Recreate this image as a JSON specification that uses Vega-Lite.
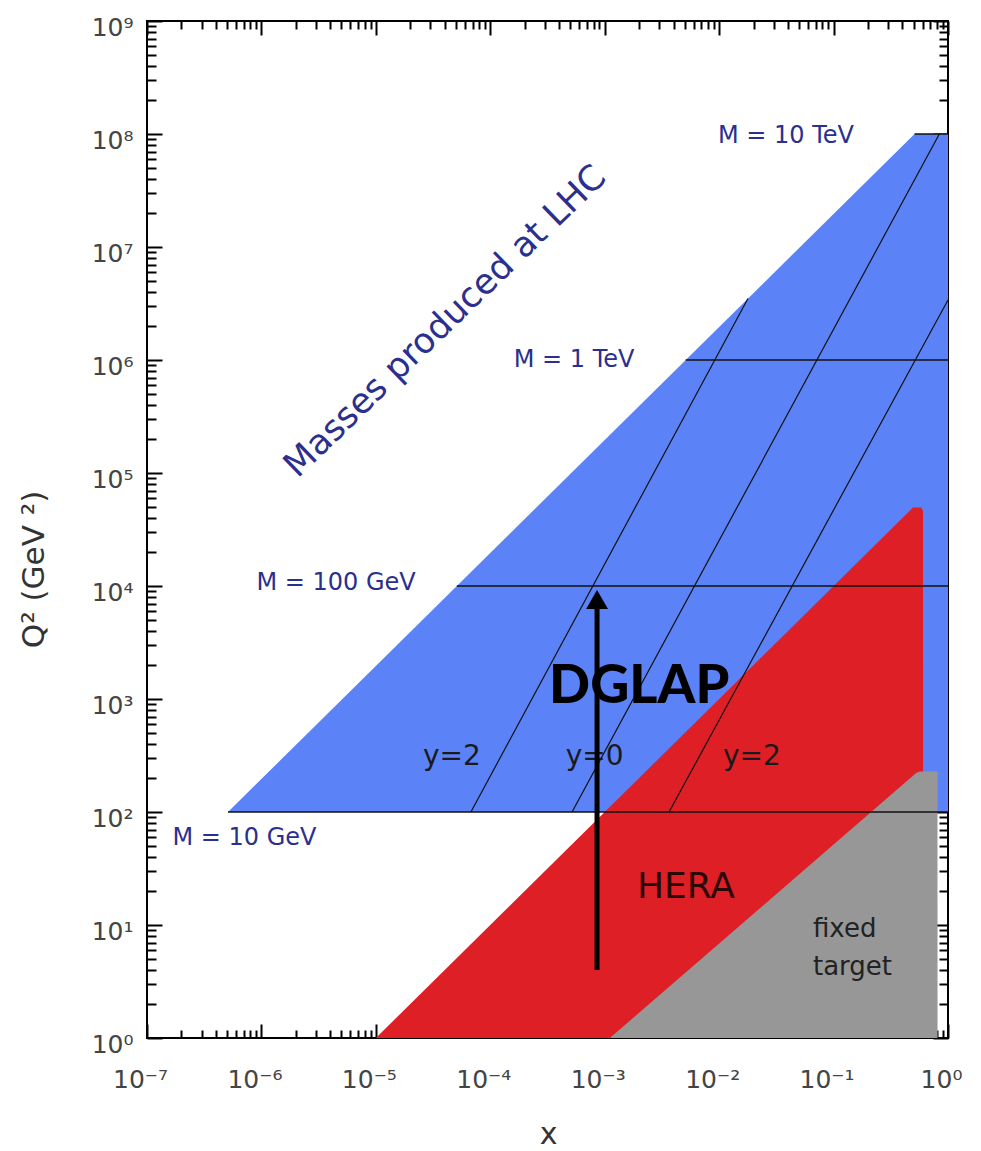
{
  "$schema": "https://vega.github.io/schema/vega-lite/v6.json",
  "width": 801,
  "height": 1017,
  "autosize": {"type": "none"},
  "padding": {"left": 147, "top": 21, "right": 33, "bottom": 113},
  "background": "white",
  "config": {
    "view": {"stroke": "black", "strokeWidth": 2},
    "font": "DejaVu Sans"
  },
  "datasets": {
    "lhc": [
      {"x": 5.1e-7, "top": 100, "bottom": 100},
      {"x": 0.51, "top": 100000000, "bottom": 100},
      {"x": 1, "top": 100000000, "bottom": 100}
    ],
    "hera": [
      {"x": 1e-5, "top": 1, "bottom": 1},
      {"x": 0.495, "top": 49500, "bottom": 1},
      {"x": 0.585, "top": 49500, "bottom": 1},
      {"x": 0.605, "top": 46000, "bottom": 1}
    ],
    "fixed": [
      {"x": 0.00111, "top": 1, "bottom": 1},
      {"x": 0.53, "top": 222, "bottom": 1},
      {"x": 0.57, "top": 228, "bottom": 1},
      {"x": 0.81, "top": 228, "bottom": 1}
    ],
    "masslines": [
      {"label": "M = 10 GeV", "x1": 5.1e-7, "x2": 1, "q": 100},
      {"label": "M = 100 GeV", "x1": 5.1e-5, "x2": 1, "q": 10000},
      {"label": "M = 1 TeV", "x1": 0.0051, "x2": 1, "q": 1000000},
      {"label": "M = 10 TeV", "x1": 0.51, "x2": 1, "q": 100000000}
    ],
    "masslabels": [
      {"text": "M = 10 TeV", "x": 0.0384, "q": 96000000},
      {"text": "M = 1 TeV", "x": 0.00054, "q": 990000},
      {"text": "M = 100 GeV", "x": 4.49e-6, "q": 10700},
      {"text": "M = 10 GeV", "x": 7.1e-7, "q": 59}
    ],
    "rapidity": [
      {"label": "y=2", "x1": 6.77e-5, "q1": 100, "x2": 0.01786, "q2": 3500000},
      {"label": "y=0", "x1": 0.000518, "q1": 100, "x2": 0.84, "q2": 100000000},
      {"label": "y=2", "x1": 0.00365, "q1": 100, "x2": 1, "q2": 3400000}
    ],
    "ylabels": [
      {"text": "y=2", "x": 4.62e-5, "q": 308},
      {"text": "y=0", "x": 0.000815, "q": 308},
      {"text": "y=2", "x": 0.01936, "q": 308}
    ],
    "heralabel": [{"text": "HERA", "x": 0.00513, "q": 21.7}],
    "fixedlabel": [
      {"text": "fixed", "x": 0.0661, "q": 7.85},
      {"text": "target", "x": 0.0661, "q": 3.61}
    ],
    "lhclabel": [{"text": "Masses produced at LHC", "x": 4.02e-5, "q": 2200000}],
    "arrow": [{"x": 0.000857, "q1": 4, "q2": 6800, "qhead": 7580}],
    "dglap": [{"text": "DGLAP", "x": 0.002, "q": 927}]
  },
  "layer": [
    {
      "data": {"name": "lhc"},
      "mark": {"type": "area", "color": "#5b83f7", "opacity": 1},
      "encoding": {
        "x": {
          "field": "x", "type": "quantitative",
          "scale": {"type": "log", "domain": [1e-7, 1], "nice": false},
          "axis": {
            "orient": "bottom",
            "values": [1e-7,2e-7,3e-7,4e-7,5e-7,6e-7,7e-7,8e-7,9e-7,1e-6,2e-6,3e-6,4e-6,5e-6,6e-6,7e-6,8e-6,9e-6,1e-5,2e-5,3e-5,4e-5,5e-5,6e-5,7e-5,8e-5,9e-5,0.0001,0.0002,0.0003,0.0004,0.0005,0.0006,0.0007,0.0008,0.0009,0.001,0.002,0.003,0.004,0.005,0.006,0.007,0.008,0.009,0.01,0.02,0.03,0.04,0.05,0.06,0.07,0.08,0.09,0.1,0.2,0.3,0.4,0.5,0.6,0.7,0.8,0.9,1],
            "labelExpr": "abs(log(datum.value)/LN10 - round(log(datum.value)/LN10)) < 0.001 ? '10' + replace(replace(replace(replace(replace(replace(replace(replace(replace(replace(replace('' + round(log(datum.value)/LN10), '-', '⁻'), '0', '⁰'), '1', '¹'), '2', '²'), '3', '³'), '4', '⁴'), '5', '⁵'), '6', '⁶'), '7', '⁷'), '8', '⁸'), '9', '⁹') : ''",
            "tickSize": {"condition": {"test": "abs(log(datum.value)/LN10 - round(log(datum.value)/LN10)) < 0.001", "value": -14}, "value": -8},
            "tickColor": "black", "tickWidth": 2,
            "domain": false, "grid": false,
            "labelFont": "DejaVu Sans", "labelFontSize": 25, "labelColor": "#444",
            "labelPadding": 63, "labelBaseline": "alphabetic", "labelOffset": -7,
            "labelFlush": false, "labelOverlap": false, "labelBound": false,
            "title": "x", "titleFont": "DejaVu Sans", "titleFontSize": 30, "titleFontWeight": "normal",
            "titleColor": "#333", "titleX": 401, "titleY": 105, "titleBaseline": "alphabetic", "titleAlign": "center"
          }
        },
        "y": {
          "field": "top", "type": "quantitative",
          "scale": {"type": "log", "domain": [1, 1000000000], "nice": false},
          "axis": {
            "orient": "left",
            "values": [1,2,3,4,5,6,7,8,9,10,20,30,40,50,60,70,80,90,100,200,300,400,500,600,700,800,900,1000,2000,3000,4000,5000,6000,7000,8000,9000,10000,20000,30000,40000,50000,60000,70000,80000,90000,100000,200000,300000,400000,500000,600000,700000,800000,900000,1000000,2000000,3000000,4000000,5000000,6000000,7000000,8000000,9000000,10000000,20000000,30000000,40000000,50000000,60000000,70000000,80000000,90000000,100000000,200000000,300000000,400000000,500000000,600000000,700000000,800000000,900000000,1000000000],
            "labelExpr": "abs(log(datum.value)/LN10 - round(log(datum.value)/LN10)) < 0.001 ? '10' + replace(replace(replace(replace(replace(replace(replace(replace(replace(replace(replace('' + round(log(datum.value)/LN10), '-', '⁻'), '0', '⁰'), '1', '¹'), '2', '²'), '3', '³'), '4', '⁴'), '5', '⁵'), '6', '⁶'), '7', '⁷'), '8', '⁸'), '9', '⁹') : ''",
            "tickSize": {"condition": {"test": "abs(log(datum.value)/LN10 - round(log(datum.value)/LN10)) < 0.001", "value": -15}, "value": -9},
            "tickColor": "black", "tickWidth": 2,
            "domain": false, "grid": false,
            "labelFont": "DejaVu Sans", "labelFontSize": 25, "labelColor": "#444",
            "labelPadding": 29, "labelAlign": "right", "labelBaseline": "middle", "labelOffset": 6,
            "labelFlush": false, "labelOverlap": false, "labelBound": false,
            "title": "Q²  (GeV ²)", "titleFont": "DejaVu Sans", "titleFontSize": 31, "titleFontWeight": "normal",
            "titleColor": "#333", "titleX": -113, "titleY": 548, "titleAngle": -90,
            "titleBaseline": "middle", "titleAlign": "center"
          }
        },
        "y2": {"field": "bottom"}
      }
    },
    {
      "data": {"name": "hera"},
      "mark": {"type": "area", "color": "#de1f26", "opacity": 1},
      "encoding": {
        "x": {
          "field": "x", "type": "quantitative",
          "scale": {"type": "log", "domain": [1e-7, 1], "nice": false},
          "axis": {
            "orient": "top",
            "values": [1e-7,2e-7,3e-7,4e-7,5e-7,6e-7,7e-7,8e-7,9e-7,1e-6,2e-6,3e-6,4e-6,5e-6,6e-6,7e-6,8e-6,9e-6,1e-5,2e-5,3e-5,4e-5,5e-5,6e-5,7e-5,8e-5,9e-5,0.0001,0.0002,0.0003,0.0004,0.0005,0.0006,0.0007,0.0008,0.0009,0.001,0.002,0.003,0.004,0.005,0.006,0.007,0.008,0.009,0.01,0.02,0.03,0.04,0.05,0.06,0.07,0.08,0.09,0.1,0.2,0.3,0.4,0.5,0.6,0.7,0.8,0.9,1],
            "labels": false,
            "tickSize": {"condition": {"test": "abs(log(datum.value)/LN10 - round(log(datum.value)/LN10)) < 0.001", "value": -14}, "value": -8},
            "tickColor": "black", "tickWidth": 2,
            "domain": false, "grid": false, "title": null
          }
        },
        "y": {
          "field": "top", "type": "quantitative",
          "scale": {"type": "log", "domain": [1, 1000000000], "nice": false},
          "axis": {
            "orient": "right",
            "values": [1,2,3,4,5,6,7,8,9,10,20,30,40,50,60,70,80,90,100,200,300,400,500,600,700,800,900,1000,2000,3000,4000,5000,6000,7000,8000,9000,10000,20000,30000,40000,50000,60000,70000,80000,90000,100000,200000,300000,400000,500000,600000,700000,800000,900000,1000000,2000000,3000000,4000000,5000000,6000000,7000000,8000000,9000000,10000000,20000000,30000000,40000000,50000000,60000000,70000000,80000000,90000000,100000000,200000000,300000000,400000000,500000000,600000000,700000000,800000000,900000000,1000000000],
            "labels": false,
            "tickSize": {"condition": {"test": "abs(log(datum.value)/LN10 - round(log(datum.value)/LN10)) < 0.001", "value": -15}, "value": -9},
            "tickColor": "black", "tickWidth": 2,
            "domain": false, "grid": false, "title": null
          }
        },
        "y2": {"field": "bottom"}
      }
    },
    {
      "data": {"name": "fixed"},
      "mark": {"type": "area", "color": "#979797", "opacity": 1},
      "encoding": {
        "x": {"field": "x", "type": "quantitative", "scale": {"type": "log", "domain": [1e-7, 1], "nice": false}, "axis": null},
        "y": {"field": "top", "type": "quantitative", "scale": {"type": "log", "domain": [1, 1000000000], "nice": false}, "axis": null},
        "y2": {"field": "bottom"}
      }
    },
    {
      "data": {"name": "masslines"},
      "mark": {"type": "rule", "color": "#111", "strokeWidth": 1.6},
      "encoding": {
        "x": {"field": "x1", "type": "quantitative", "scale": {"type": "log", "domain": [1e-7, 1], "nice": false}, "axis": null},
        "x2": {"field": "x2"},
        "y": {"field": "q", "type": "quantitative", "scale": {"type": "log", "domain": [1, 1000000000], "nice": false}, "axis": null}
      }
    },
    {
      "data": {"name": "rapidity"},
      "mark": {"type": "rule", "color": "#111", "strokeWidth": 1.2},
      "encoding": {
        "x": {"field": "x1", "type": "quantitative", "scale": {"type": "log", "domain": [1e-7, 1], "nice": false}, "axis": null},
        "x2": {"field": "x2"},
        "y": {"field": "q1", "type": "quantitative", "scale": {"type": "log", "domain": [1, 1000000000], "nice": false}, "axis": null},
        "y2": {"field": "q2"}
      }
    },
    {
      "data": {"name": "masslabels"},
      "mark": {"type": "text", "font": "DejaVu Sans", "fontSize": 24, "color": "#2b2f8e", "align": "center", "baseline": "middle"},
      "encoding": {
        "x": {"field": "x", "type": "quantitative", "scale": {"type": "log", "domain": [1e-7, 1], "nice": false}, "axis": null},
        "y": {"field": "q", "type": "quantitative", "scale": {"type": "log", "domain": [1, 1000000000], "nice": false}, "axis": null},
        "text": {"field": "text"}
      }
    },
    {
      "data": {"name": "lhclabel"},
      "mark": {"type": "text", "font": "DejaVu Sans", "fontSize": 35, "color": "#2b2f8e", "align": "center", "baseline": "middle", "angle": -44},
      "encoding": {
        "x": {"field": "x", "type": "quantitative", "scale": {"type": "log", "domain": [1e-7, 1], "nice": false}, "axis": null},
        "y": {"field": "q", "type": "quantitative", "scale": {"type": "log", "domain": [1, 1000000000], "nice": false}, "axis": null},
        "text": {"field": "text"}
      }
    },
    {
      "data": {"name": "ylabels"},
      "mark": {"type": "text", "font": "DejaVu Sans", "fontSize": 28, "color": "#1a1a1a", "align": "center", "baseline": "middle"},
      "encoding": {
        "x": {"field": "x", "type": "quantitative", "scale": {"type": "log", "domain": [1e-7, 1], "nice": false}, "axis": null},
        "y": {"field": "q", "type": "quantitative", "scale": {"type": "log", "domain": [1, 1000000000], "nice": false}, "axis": null},
        "text": {"field": "text"}
      }
    },
    {
      "data": {"name": "heralabel"},
      "mark": {"type": "text", "font": "DejaVu Sans", "fontSize": 36, "color": "#2a0808", "align": "center", "baseline": "middle"},
      "encoding": {
        "x": {"field": "x", "type": "quantitative", "scale": {"type": "log", "domain": [1e-7, 1], "nice": false}, "axis": null},
        "y": {"field": "q", "type": "quantitative", "scale": {"type": "log", "domain": [1, 1000000000], "nice": false}, "axis": null},
        "text": {"field": "text"}
      }
    },
    {
      "data": {"name": "fixedlabel"},
      "mark": {"type": "text", "font": "DejaVu Sans", "fontSize": 26, "color": "#222", "align": "left", "baseline": "alphabetic"},
      "encoding": {
        "x": {"field": "x", "type": "quantitative", "scale": {"type": "log", "domain": [1e-7, 1], "nice": false}, "axis": null},
        "y": {"field": "q", "type": "quantitative", "scale": {"type": "log", "domain": [1, 1000000000], "nice": false}, "axis": null},
        "text": {"field": "text"}
      }
    },
    {
      "data": {"name": "arrow"},
      "mark": {"type": "rule", "color": "black", "strokeWidth": 5},
      "encoding": {
        "x": {"field": "x", "type": "quantitative", "scale": {"type": "log", "domain": [1e-7, 1], "nice": false}, "axis": null},
        "y": {"field": "q1", "type": "quantitative", "scale": {"type": "log", "domain": [1, 1000000000], "nice": false}, "axis": null},
        "y2": {"field": "q2"}
      }
    },
    {
      "data": {"name": "arrow"},
      "mark": {"type": "point", "shape": "triangle-up", "filled": true, "color": "black", "size": 480, "opacity": 1, "strokeWidth": 0},
      "encoding": {
        "x": {"field": "x", "type": "quantitative", "scale": {"type": "log", "domain": [1e-7, 1], "nice": false}, "axis": null},
        "y": {"field": "qhead", "type": "quantitative", "scale": {"type": "log", "domain": [1, 1000000000], "nice": false}, "axis": null}
      }
    },
    {
      "data": {"name": "dglap"},
      "mark": {"type": "text", "font": "Lato", "fontWeight": 900, "fontSize": 54, "color": "black", "align": "center", "baseline": "alphabetic"},
      "encoding": {
        "x": {"field": "x", "type": "quantitative", "scale": {"type": "log", "domain": [1e-7, 1], "nice": false}, "axis": null},
        "y": {"field": "q", "type": "quantitative", "scale": {"type": "log", "domain": [1, 1000000000], "nice": false}, "axis": null},
        "text": {"field": "text"}
      }
    }
  ],
  "resolve": {"axis": {"x": "independent", "y": "independent"}}
}
